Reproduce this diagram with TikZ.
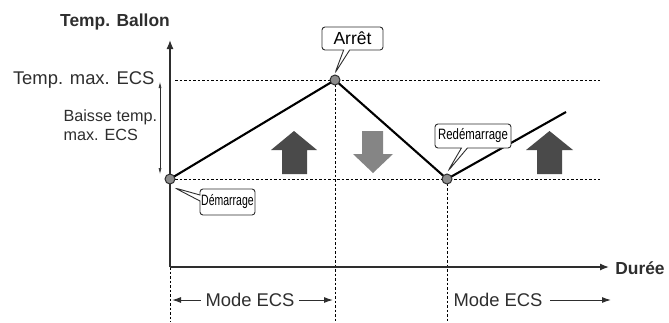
\documentclass[tikz,border=0pt]{standalone}
\usepackage{fontspec}
\setmainfont{Liberation Sans}
\usetikzlibrary{arrows.meta,shapes.callouts}
\definecolor{axisgray}{HTML}{2E2E2E}
\definecolor{darkarrow}{HTML}{4A4A4A}
\definecolor{lightarrow}{HTML}{858585}
\definecolor{ptfill}{HTML}{8C8C8C}
\begin{document}
\begin{tikzpicture}[x=1pt,y=-1pt,
  axisline/.style={draw=axisgray,line width=1.3pt},
  guide/.style={draw=black,line width=0.9pt,dash pattern=on 2.5pt off 2pt},
  curve/.style={draw=black,line width=2.1pt},
  pt/.style={circle,draw=axisgray,fill=ptfill,line width=1pt,minimum size=10pt,inner sep=0pt},
  lbl/.style={font=\fontsize{18.4}{20}\selectfont,text=axisgray},
  bold/.style={font=\fontsize{17.4}{20}\selectfont\bfseries,text=axisgray},
  small/.style={font=\fontsize{16.2}{19}\selectfont,text=axisgray,align=left},
  callbox/.style={rectangle callout,draw=axisgray,fill=white,line width=0.9pt,rounded corners=3pt,inner sep=2pt,callout pointer width=6pt},
  bigup/.style={fill=darkarrow},
  bigdown/.style={fill=lightarrow},
  tip/.style={-{Latex[length=9pt,width=7pt]}},
  smalltip/.style={{Latex[length=6pt,width=3pt]}-{Latex[length=6pt,width=3pt]}}
]
\useasboundingbox (0,0) rectangle (669,322);
% coordinates
\coordinate (O) at (170,267);
\coordinate (Ytop) at (170,40);
\coordinate (Xend) at (609,267);
\coordinate (D) at (566,112);
% guides
\draw[guide] (175,80) -- (600,80);
\draw[guide] (175,179) -- (600,179);
\draw[guide] (170,267) -- (170,322);
\draw[guide] (335,80) -- (335,322);
\draw[guide] (447,179) -- (447,322);
% axes
\draw[axisline,tip] (O) -- (Ytop);
\draw[axisline,tip] (O) -- (Xend);
% curve
\coordinate (A) at (170,179);
\coordinate (B) at (335,80);
\coordinate (C) at (447,179);
\draw[curve] (A) -- (B) -- (C) -- (D);
\node[pt] (pA) at (A) {};
\node[pt] (pB) at (B) {};
\node[pt] (pC) at (C) {};
% big arrows
\path[bigup] (271,150) -- (294,131) -- (317,150) -- (307,150) -- (307,174) -- (282,174) -- (282,150) -- cycle;
\path[bigdown] (353,154) -- (373,173) -- (393,154) -- (383,154) -- (383,131) -- (362,131) -- (362,154) -- cycle;
\path[bigup] (526,150) -- (549.5,131) -- (573,150) -- (562,150) -- (562,174) -- (537,174) -- (537,150) -- cycle;
% texts
\node[bold] (yt) at (115,22) {Temp. Ballon};
\node[bold] (xt) at (640,268) {Durée};
\node[lbl,anchor=east] (tmax) at (158,80) {Temp. max. ECS};
\node[small,anchor=west] (baisse) at (60,125) {Baisse temp.\\max. ECS};
\coordinate (dt) at (160,82);
\coordinate (db) at (160,174);
\draw[axisgray,line width=0.6pt,smalltip] (dt) -- (db);
% callouts
\coordinate (tA) at (175,188);
\coordinate (tB) at (335,73);
\coordinate (tC) at (448,171);
\node[callbox,callout absolute pointer=(tA),minimum width=55pt,minimum height=26pt,inner sep=0pt] (cA) at (227.5,202) {\fontsize{15}{17}\selectfont\scalebox{0.7}[1]{Démarrage}};
\node[callbox,callout absolute pointer=(tB),minimum width=61pt,minimum height=23pt,inner sep=0pt] (cB) at (352.5,38.5) {\fontsize{17.5}{19}\selectfont Arrêt};
\node[callbox,callout absolute pointer=(tC),minimum width=76pt,minimum height=24pt,inner sep=0pt] (cC) at (473,136) {\fontsize{15}{17}\selectfont\scalebox{0.76}[1]{Redémarrage}};
% mode ECS
\node[lbl] (m1) at (250,300) {Mode ECS};
\node[lbl] (m2) at (498,300) {Mode ECS};
\coordinate (l1) at (172,300);
\coordinate (r1) at (333,300);
\coordinate (r2) at (611,300);
\draw[axisgray,line width=1pt,-{Latex[length=9pt,width=6pt]}] (m1.west) ++(-1,0) -- (l1);
\draw[axisgray,line width=1pt,-{Latex[length=9pt,width=6pt]}] (m1.east) ++(1,0) -- (r1);
\draw[axisgray,line width=1pt,-{Latex[length=9pt,width=6pt]}] (m2.east) ++(4,0) -- (r2);
\end{tikzpicture}
\end{document}
